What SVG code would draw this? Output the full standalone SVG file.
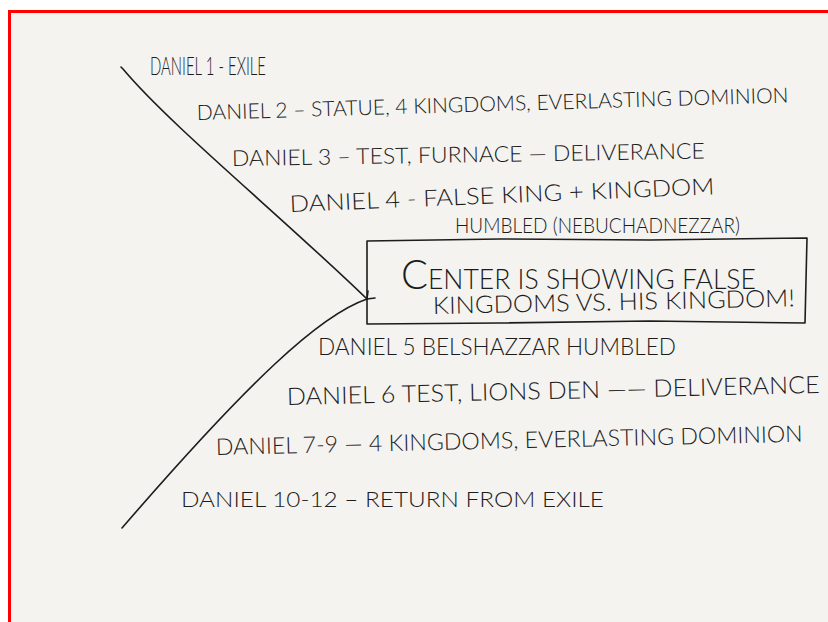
<svg xmlns="http://www.w3.org/2000/svg" width="828" height="622" viewBox="0 0 828 622">
<style>
.t{font-family:Lato,"Liberation Sans",sans-serif;font-weight:300;fill:#1c1c1c;}
.ln{fill:none;stroke:#1c1c1c;stroke-width:1.6;stroke-linecap:round;stroke-linejoin:round;}
</style>
<rect x="0" y="0" width="828" height="622" fill="#ffffff"/>
<path d="M9.5,632 L9.5,11.5 L840,11.5" fill="none" stroke="#ff0000" stroke-width="3"/>
<rect x="11" y="13" width="817" height="609" fill="#f4f3f0"/>
<g id="connectors">
<path class="ln" d="M121,67 Q122,68 123,69 C170,125 280,215 367,299"/>
<path class="ln" d="M367,299 C320,315 250,380 122,528"/>
<path class="ln" d="M367,299 L368,291 M367,299 L375,298"/>
</g>
<g id="daniel1"><text class="t" x="150" y="75" font-size="26" textLength="116" lengthAdjust="spacingAndGlyphs">DANIEL 1 - EXILE</text></g>
<g id="daniel2"><text class="t" x="197" y="120" font-size="21" textLength="592" lengthAdjust="spacingAndGlyphs" transform="rotate(-1.7 197 120)">DANIEL 2 – STATUE, 4 KINGDOMS, EVERLASTING DOMINION</text></g>
<g id="daniel3"><text class="t" x="232" y="166" font-size="22" textLength="473" lengthAdjust="spacingAndGlyphs" transform="rotate(-0.9 232 166)">DANIEL 3 – TEST, FURNACE —  DELIVERANCE</text></g>
<g id="daniel4">
<text class="t" x="290" y="212" font-size="23" textLength="425" lengthAdjust="spacingAndGlyphs" transform="rotate(-2.4 290 212)">DANIEL 4 - FALSE KING  +  KINGDOM</text>
<text class="t" x="455" y="233" font-size="21" textLength="285" lengthAdjust="spacingAndGlyphs">HUMBLED (NEBUCHADNEZZAR)</text>
</g>
<g id="center">
<path class="ln" d="M367,241 L500,239 L650,240 L807,238 L806,280 L805,323 L650,321 L500,323 L367,324 L367,300 L367,241 Z"/>
<text class="t" x="401" y="289" font-size="28" textLength="355" lengthAdjust="spacingAndGlyphs"><tspan font-size="42">C</tspan>ENTER IS SHOWING FALSE</text>
<text class="t" x="433" y="314" font-size="24" textLength="362" lengthAdjust="spacingAndGlyphs" transform="rotate(-1.2 433 314)">KINGDOMS  VS. HIS KINGDOM!</text>
</g>
<g id="daniel5"><text class="t" x="318" y="355" font-size="23" textLength="358" lengthAdjust="spacingAndGlyphs">DANIEL 5 BELSHAZZAR HUMBLED</text></g>
<g id="daniel6"><text class="t" x="287" y="405" font-size="24" textLength="533" lengthAdjust="spacingAndGlyphs" transform="rotate(-1.3 287 405)">DANIEL  6   TEST, LIONS DEN —— DELIVERANCE</text></g>
<g id="daniel7"><text class="t" x="216" y="455" font-size="23" textLength="587" lengthAdjust="spacingAndGlyphs" transform="rotate(-1.3 216 455)">DANIEL 7-9 — 4 KINGDOMS, EVERLASTING  DOMINION</text></g>
<g id="daniel10"><text class="t" x="181" y="507" font-size="22" textLength="423" lengthAdjust="spacingAndGlyphs">DANIEL  10-12 – RETURN  FROM  EXILE</text></g>
</svg>
